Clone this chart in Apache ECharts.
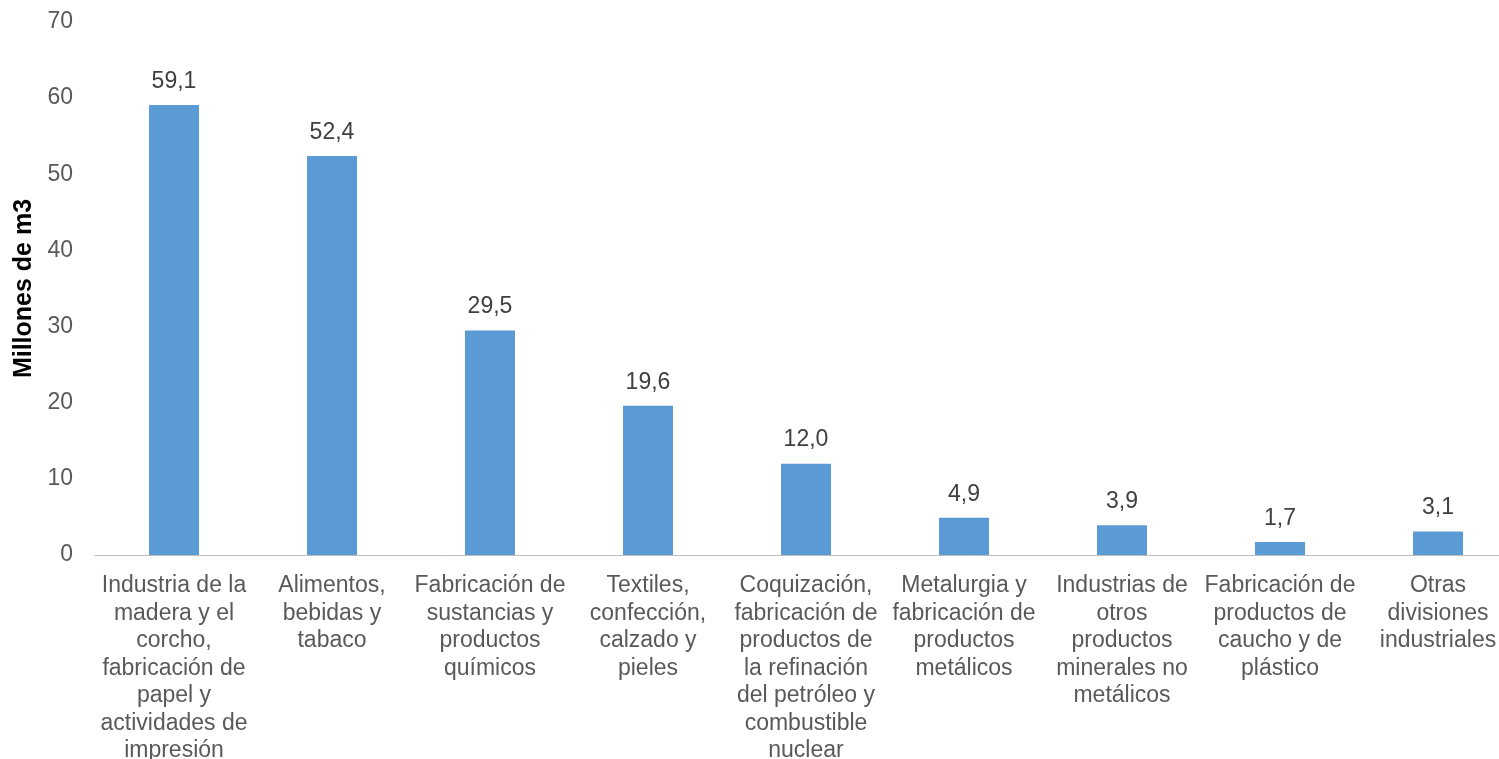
<!DOCTYPE html>
<html>
<head>
<meta charset="utf-8">
<script src="https://cdn.jsdelivr.net/npm/echarts@6/dist/echarts.min.js"></script>
<style>
html,body{margin:0;padding:0;background:#fff;}
#c{width:1499px;height:759px;}
</style>
</head>
<body>
<div id="c"></div>
<script>
const categories = [
  "Industria de la\nmadera y el\ncorcho,\nfabricación de\npapel y\nactividades de\nimpresión",
  "Alimentos,\nbebidas y\ntabaco",
  "Fabricación de\nsustancias y\nproductos\nquímicos",
  "Textiles,\nconfección,\ncalzado y\npieles",
  "Coquización,\nfabricación de\nproductos de\nla refinación\ndel petróleo y\ncombustible\nnuclear",
  "Metalurgia y\nfabricación de\nproductos\nmetálicos",
  "Industrias de\notros\nproductos\nminerales no\nmetálicos",
  "Fabricación de\nproductos de\ncaucho y de\nplástico",
  "Otras\ndivisiones\nindustriales"
];
const values = [59.1, 52.4, 29.5, 19.6, 12.0, 4.9, 3.9, 1.7, 3.1];
const yTicks = [0, 10, 20, 30, 40, 50, 60, 70];
const yTitle = "Millones de m3";

const chart = echarts.init(document.getElementById('c'), null, {renderer: 'canvas'});
const font = "Liberation Sans, Arial, sans-serif";
chart.setOption({
  animation: false,
  grid: {left: 95, top: 22, width: 1422, bottom: 204, containLabel: false, outerBoundsMode: 'none'},
  xAxis: {
    type: 'category',
    data: categories,
    axisLine: {show: true, lineStyle: {color: '#BFBFBF', width: 1}},
    axisTick: {show: false},
    axisLabel: {
      interval: 0, color: '#595959', fontSize: 23, fontFamily: font,
      lineHeight: 27.5, margin: 17, align: 'center', hideOverlap: false
    }
  },
  yAxis: {
    type: 'value',
    min: yTicks[0], max: yTicks[yTicks.length - 1], interval: 10,
    name: yTitle,
    nameLocation: 'middle',
    nameRotate: 90,
    nameGap: 56,
    nameTextStyle: {color: '#000', fontSize: 25, fontWeight: 'bold', fontFamily: font},
    axisLine: {show: false},
    axisTick: {show: false},
    splitLine: {show: false},
    axisLabel: {color: '#595959', fontSize: 23, fontFamily: font, margin: 22}
  },
  series: [{
    type: 'bar',
    data: values,
    barWidth: 50,
    itemStyle: {color: '#5B9BD5'},
    label: {
      show: true, position: 'top', distance: 12,
      color: '#404040', fontSize: 23, fontFamily: font,
      formatter: p => p.value.toFixed(1).replace('.', ',')
    }
  }]
});
</script>
</body>
</html>
